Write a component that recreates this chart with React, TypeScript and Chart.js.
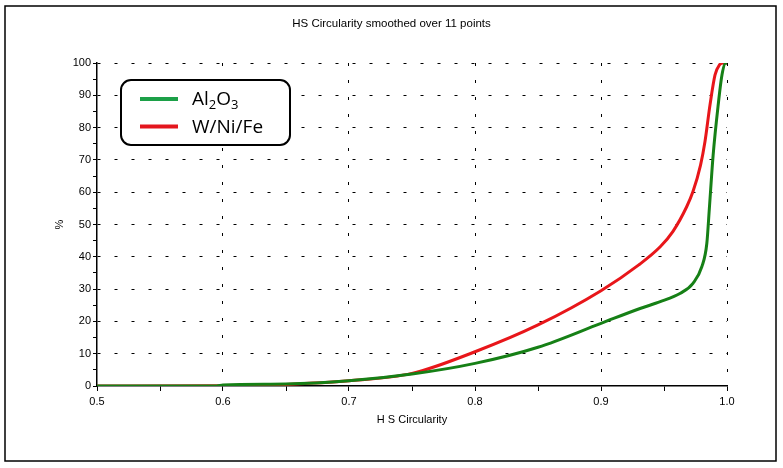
import React, { useEffect, useRef } from 'react';
import { Chart, registerables } from 'chart.js';

Chart.register(...registerables);

const TITLE = 'HS Circularity smoothed over 11 points';
const X_TITLE = 'H S Circularity';
const Y_TITLE = '%';

const AL2O3_X = [0.5, 0.55, 0.595, 0.6, 0.65, 0.7, 0.75, 0.8, 0.85, 0.9, 0.931, 0.947, 0.963, 0.973, 0.98, 0.984, 0.986, 0.989, 0.993, 0.996, 0.999, 1.0];
const AL2O3_Y = [0, 0, 0, 0.3, 0.6, 1.6, 3.7, 7.0, 12, 19.4, 24, 26.1, 28.7, 31.8, 36.9, 44.2, 55, 71.5, 87, 96.3, 100, 100];

const WNIFE_X = [0.5, 0.6, 0.65, 0.7, 0.75, 0.8, 0.85, 0.9, 0.93, 0.947, 0.957, 0.968, 0.973, 0.979, 0.9825, 0.9865, 0.9905, 0.994, 0.997, 1.0];
const WNIFE_Y = [0, 0.1, 0.5, 1.6, 3.9, 10.6, 18.9, 29.5, 37.5, 43.1, 47.8, 55.5, 60.2, 68.4, 75.6, 87, 96.3, 99.4, 100, 100];

const X_MIN = 0.5;
const X_MAX = 1.0;
const X_STEP = 0.05;
const Y_MIN = 0;
const Y_MAX = 100;
const Y_STEP = 5;

const GREEN = 'rgb(22,128,22)';
const RED = 'rgb(232,22,26)';
const LEGEND_GREEN = 'rgb(28,160,72)';
const LEGEND_RED = 'rgb(228,22,30)';

const SMALL_FONT = "'Liberation Sans Narrow', 'Liberation Sans', Arial, sans-serif";
const LEGEND_FONT = "'Open Sans', 'Liberation Sans', sans-serif";

const isMajorX = (v: number) => Math.abs(v * 10 - Math.round(v * 10)) < 1e-6;
const isMajorY = (v: number) => Math.abs(v % 10) < 1e-6;

const decorPlugin = {
  id: 'decor',
  afterDraw(chart: any) {
    const ctx = chart.ctx as CanvasRenderingContext2D;
    const area = chart.chartArea;
    ctx.save();
    // outer frame
    ctx.strokeStyle = '#000';
    ctx.lineWidth = 1.5;
    ctx.strokeRect(5, 6, 771, 455);

    // title
    ctx.fillStyle = '#000';
    ctx.font = `11.5px ${SMALL_FONT}`;
    ctx.textAlign = 'center';
    ctx.textBaseline = 'middle';
    ctx.fillText(TITLE, chart.width / 2, 24);

    // x axis title
    ctx.font = `11px ${SMALL_FONT}`;
    ctx.fillText(X_TITLE, (area.left + area.right) / 2, 420);

    // y axis title
    ctx.save();
    ctx.translate(60, (area.top + area.bottom) / 2);
    ctx.rotate(-Math.PI / 2);
    ctx.fillText(Y_TITLE, 0, 0);
    ctx.restore();

    // legend box
    const bx = 121, by = 80, bw = 169, bh = 65, r = 10;
    ctx.fillStyle = '#fff';
    ctx.strokeStyle = '#000';
    ctx.lineWidth = 2;
    ctx.beginPath();
    ctx.roundRect(bx, by, bw, bh, r);
    ctx.fill();
    ctx.stroke();

    const items = [
      { color: LEGEND_GREEN, y: 99, parts: [['Al', 0], ['2', 1], ['O', 0], ['3', 1]] },
      { color: LEGEND_RED, y: 126.5, parts: [['W/Ni/Fe', 0]] },
    ];
    items.forEach((it) => {
      ctx.strokeStyle = it.color;
      ctx.lineWidth = 4;
      ctx.beginPath();
      ctx.moveTo(140, it.y);
      ctx.lineTo(178, it.y);
      ctx.stroke();
      let x = 192;
      ctx.fillStyle = '#000';
      ctx.textAlign = 'left';
      ctx.textBaseline = 'alphabetic';
      (it.parts as any[]).forEach(([txt, sub]) => {
        ctx.font = sub ? `13px ${LEGEND_FONT}` : `19px ${LEGEND_FONT}`;
        ctx.fillText(txt, x, it.y + 6 + (sub ? 4 : 0));
        x += ctx.measureText(txt).width;
      });
    });
    ctx.restore();
  },
};

export default function App() {
  const ref = useRef<HTMLCanvasElement | null>(null);

  useEffect(() => {
    if (!ref.current) return;
    const green = AL2O3_X.map((x, i) => ({ x, y: AL2O3_Y[i] }));
    const red = WNIFE_X.map((x, i) => ({ x, y: WNIFE_Y[i] }));
    const chart = new Chart(ref.current, {
      type: 'line',
      data: {
        datasets: [
          {
            label: 'Al2O3',
            data: green,
            borderColor: GREEN,
            borderWidth: 3,
            pointRadius: 0,
            cubicInterpolationMode: 'monotone',
            fill: false,
          },
          {
            label: 'W/Ni/Fe',
            data: red,
            borderColor: RED,
            borderWidth: 3,
            pointRadius: 0,
            cubicInterpolationMode: 'monotone',
            fill: false,
          },
        ],
      },
      options: {
        animation: false,
        responsive: false,
        maintainAspectRatio: false,
        layout: { padding: { left: 47, right: 56, top: 63, bottom: 42 } },
        plugins: {
          legend: { display: false },
          title: { display: false },
          tooltip: { enabled: false },
        },
        scales: {
          x: {
            type: 'linear',
            min: X_MIN,
            max: X_MAX,
            afterFit: (s: any) => { s.height = 40; },
            ticks: {
              stepSize: X_STEP,
              autoSkip: false,
              maxRotation: 0,
              padding: 4,
              color: '#000',
              font: { family: SMALL_FONT, size: 11 },
              callback: (v: any) => (isMajorX(Number(v)) ? Number(v).toFixed(1) : ''),
            },
            grid: {
              color: (c: any) => (c.tick && isMajorX(c.tick.value) && c.tick.value > X_MIN + 1e-6 ? '#000' : 'rgba(0,0,0,0)'),
              lineWidth: 1,
              tickColor: '#000',
              tickLength: 5,
            },
            border: { display: true, color: '#000', width: 1.5, dash: [3, 14] },
          },
          y: {
            type: 'linear',
            min: Y_MIN,
            max: Y_MAX,
            afterFit: (s: any) => { s.width = 50; },
            ticks: {
              stepSize: Y_STEP,
              autoSkip: false,
              padding: 2,
              color: '#000',
              font: { family: SMALL_FONT, size: 11 },
              callback: (v: any) => (isMajorY(Number(v)) ? String(v) : ''),
            },
            grid: {
              color: (c: any) => (c.tick && isMajorY(c.tick.value) && c.tick.value > Y_MIN ? '#000' : 'rgba(0,0,0,0)'),
              lineWidth: 1,
              tickColor: '#000',
              tickLength: 4,
            },
            border: { display: true, color: '#000', width: 1.5, dash: [3, 14] },
          },
        },
      },
      plugins: [decorPlugin],
    });
    return () => chart.destroy();
  }, []);

  return (
    <div style={{ position: 'fixed', left: 0, top: 0, width: 783, height: 468, background: '#fff' }}>
      <canvas ref={ref} width={783} height={468} style={{ width: 783, height: 468 }} />
    </div>
  );
}
